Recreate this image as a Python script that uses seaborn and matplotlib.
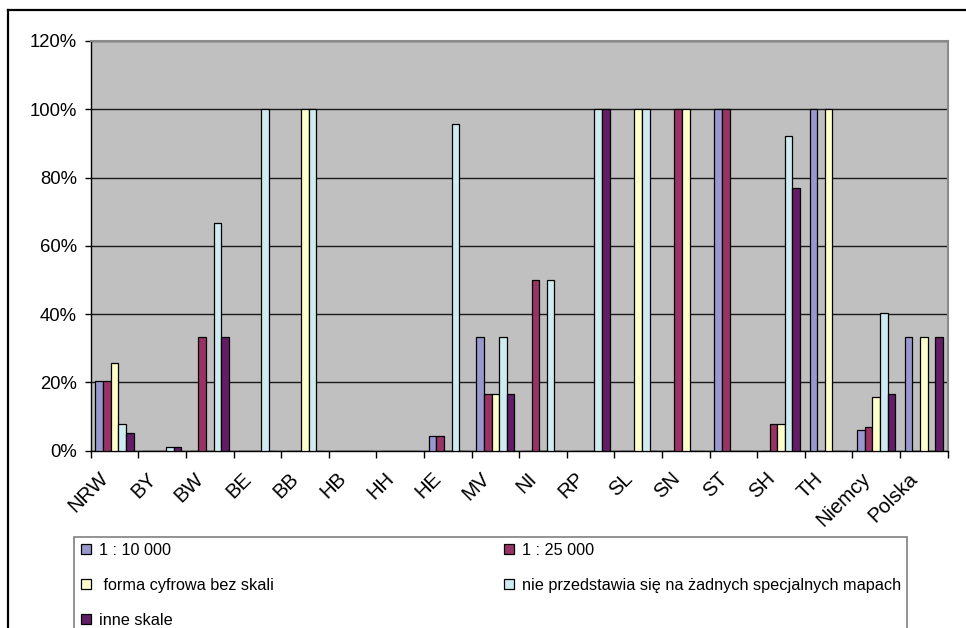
import numpy as np
import pandas as pd
import matplotlib
matplotlib.use("Agg")
import matplotlib.pyplot as plt
import matplotlib.transforms as mtransforms
from matplotlib.ticker import FuncFormatter, FixedLocator
from matplotlib.lines import Line2D
import seaborn as sns

# Regions (German federal states plus totals)
regions = ["NRW", "BY", "BW", "BE", "BB", "HB", "HH", "HE", "MV", "NI",
           "RP", "SL", "SN", "ST", "SH", "TH", "Niemcy", "Polska"]

series_names = ["1 : 10 000", "1 : 25 000", " forma cyfrowa bez skali",
                "nie przedstawia się na żadnych specjalnych mapach", "inne skale"]

# Share of answers in percent, one list per series
scale_10k = [20.5, 0, 0, 0, 0, 0, 0, 4.3, 33.3, 0, 0, 0, 0, 100, 0, 100, 6.1, 33.3]
scale_25k = [20.5, 0, 33.3, 0, 0, 0, 0, 4.3, 16.7, 50, 0, 0, 100, 100, 7.7, 0, 7.0, 0]
digital = [25.6, 0, 0, 0, 100, 0, 0, 0, 16.7, 0, 0, 100, 100, 0, 7.7, 100, 15.6, 33.3]
not_shown = [7.7, 1.2, 66.7, 100, 100, 0, 0, 95.7, 33.3, 50, 100, 100, 0, 0, 92.3, 0, 40.4, 0]
other = [5.1, 1.2, 33.3, 0, 0, 0, 0, 0, 16.7, 0, 100, 0, 0, 0, 76.9, 0, 16.6, 33.3]

colors = ["#9898CC", "#993366", "#FFFFCC", "#CDEBF0", "#631C66"]

rows = []
for name, vals in zip(series_names, [scale_10k, scale_25k, digital, not_shown, other]):
    for reg, v in zip(regions, vals):
        rows.append({"region": reg, "series": name, "value": v / 100.0})
df = pd.DataFrame(rows)

plt.rcParams["font.family"] = ["Liberation Sans", "DejaVu Sans"]

W, H = 966, 628
fig = plt.figure(figsize=(W / 100, H / 100), dpi=100)
ax = fig.add_axes([90.7 / W, 1 - 450.7 / H, (947.7 - 90.7) / W, (450.7 - 41) / H])
ax.set_facecolor("#C0C0C0")

sns.barplot(data=df, x="region", y="value", hue="series", order=regions,
            hue_order=series_names, palette=colors, width=0.8,
            edgecolor="black", linewidth=0.9, saturation=1, errorbar=None,
            legend=False, ax=ax, zorder=3)

ax.set_ylim(0, 1.2)
ax.set_xlim(-0.5, len(regions) - 0.5)
ax.set_yticks(np.arange(0, 1.21, 0.2))
ax.yaxis.set_major_formatter(FuncFormatter(lambda v, p: f"{v*100:.0f}%"))
ax.grid(axis="y", color="#1a1a1a", linewidth=1.0, zorder=1)
ax.set_axisbelow(True)

# category labels at centres, tick marks at category boundaries
ax.set_xticks(range(len(regions)))
ax.set_xticklabels(regions, rotation=45, ha="right", va="center",
                   rotation_mode="anchor")
ax.xaxis.set_minor_locator(FixedLocator(np.arange(-0.5, len(regions), 1.0)))
ax.tick_params(axis="x", which="major", length=0, pad=18, labelsize=14.6)
ax.tick_params(axis="x", which="minor", length=5, width=1, color="black")
ax.tick_params(axis="y", length=4, width=1, pad=6, labelsize=13.3)
shift = mtransforms.ScaledTranslation(-9 / 100, 0, fig.dpi_scale_trans)
for lab in ax.get_xticklabels():
    lab.set_transform(lab.get_transform() + shift)

ax.set_xlabel("")
ax.set_ylabel("")
for side in ["left", "bottom"]:
    ax.spines[side].set_color("black")
    ax.spines[side].set_linewidth(1.0)
for side in ["top", "right"]:
    ax.spines[side].set_color("#8A8A8A")
    ax.spines[side].set_linewidth(1.5)

# legend below the chart, two columns filled row by row
handles = [Line2D([0], [0], marker="s", linestyle="none", markersize=7,
                  markerfacecolor=c, markeredgecolor="black", markeredgewidth=0.9)
           for c in colors]
order = [0, 2, 4, 1, 3]
leg = fig.legend([handles[i] for i in order], [series_names[i] for i in order],
                 loc="upper left",
                 bbox_to_anchor=(74.3 / W, -0.5, (906.7 - 74.3) / W, 0.5 + 1 - 537.3 / H),
                 mode="expand", ncol=2, fontsize=11.7, frameon=True, fancybox=False,
                 edgecolor="#808080", framealpha=1, borderpad=0.35,
                 labelspacing=1.22, handlelength=0.7, handletextpad=0.45,
                 borderaxespad=0)
leg.get_frame().set_linewidth(1.2)

# chart border
fig.add_artist(Line2D([8 / W, 1.0], [1 - 10 / H, 1 - 10 / H], color="black", linewidth=1.6))
fig.add_artist(Line2D([8 / W, 8 / W], [0, 1 - 10 / H], color="black", linewidth=1.6))

fig.savefig("out.png", dpi=100)
